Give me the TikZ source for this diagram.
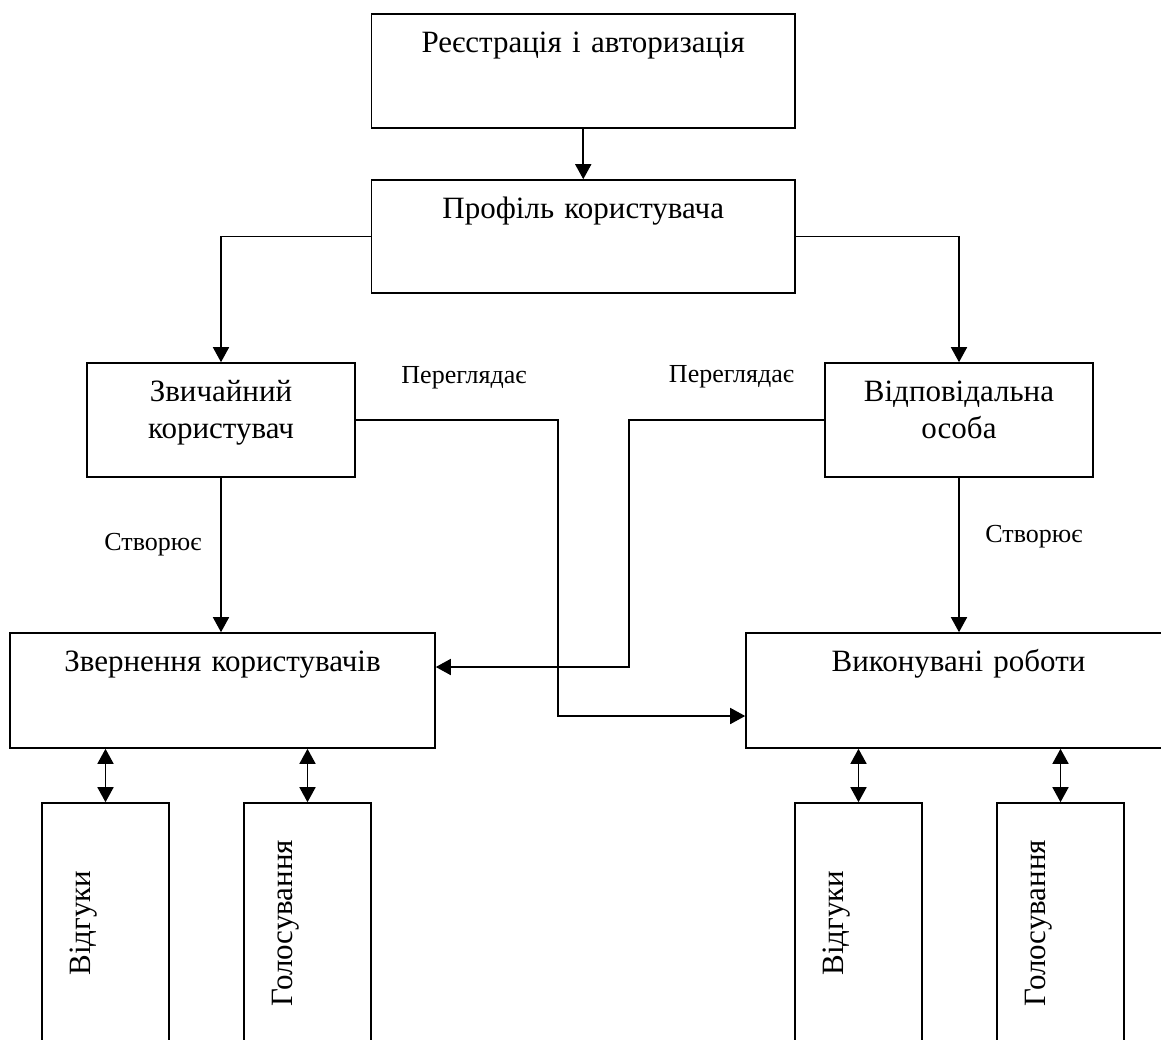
\documentclass[tikz,border=0pt]{standalone}
\usepackage{fontspec}
\setmainfont{Liberation Serif}
\usetikzlibrary{arrows.meta}

\tikzset{
  blk/.style={draw, rectangle, line width=0.8pt, inner sep=0pt, align=center,
    text height=19pt, font=\fontsize{15.5}{18.5}\selectfont},
  vblk/.style={blk, rotate=90, text width=120pt, text height=24.25pt, text depth=39.25pt},
  lbl/.style={anchor=base, inner sep=0pt, font=\fontsize{13}{15}\selectfont},
  arr/.style={line width=0.8pt, -{Triangle[length=7.5pt,width=8pt]}},
  darr/.style={line width=0.8pt, {Triangle[length=7.5pt,width=8pt]}-{Triangle[length=7.5pt,width=8pt]}},
}

\begin{document}
\begin{tikzpicture}[x=0.5pt, y=-0.5pt]
    \useasboundingbox (0,0) rectangle (1161,1039);

    % Top boxes
    \node[blk, text width=211.75pt, text depth=38pt] (reg) at (583.25,71) {Реєстрація і авторизація};
    \node[blk, text width=211.75pt, text depth=37.5pt] (prof) at (583.25,236.5) {Профіль користувача};

    % Roles
    \node[blk, text width=134pt, text depth=38pt] (user) at (221,420) {Звичайний\\користувач};
    \node[blk, text width=134pt, text depth=38pt] (resp) at (959,420) {Відповідальна\\особа};

    % Main lists
    \node[blk, text width=212.5pt, text depth=38.5pt] (appeal) at (222.5,690.5) {Звернення користувачів};
    \node[blk, text width=212.5pt, text depth=38.5pt] (works) at (958.5,690.5) {Виконувані роботи};

    % Feedback and voting
    \node[vblk] (fbL) at (105.5,923) {Відгуки};
    \node[vblk] (voteL) at (307.5,923) {Голосування};
    \node[vblk] (fbR) at (858.5,923) {Відгуки};
    \node[vblk] (voteR) at (1060.5,923) {Голосування};

    % Labels
    \node[lbl] (viewL) at (464,383) {Переглядає};
    \node[lbl] (viewR) at (731.5,382) {Переглядає};
    \node[lbl] (makeL) at (153,550) {Створює};
    \node[lbl] (makeR) at (1034,542) {Створює};

    % Connectors
    \coordinate (bendL) at (558,716);
    \coordinate (bendR) at (629,667);
    \draw[arr] (reg) -- (prof);
    \draw[arr] (prof.west) -| (user.north);
    \draw[arr] (prof.east) -| (resp.north);
    \draw[arr] (user.south) -- (user.south |- appeal.north);
    \draw[arr] (resp.south) -- (resp.south |- works.north);
    \draw[arr] (user.east) -| (bendL) -- (bendL -| works.west);
    \draw[arr] (resp.west) -| (bendR) -- (bendR -| appeal.east);

    % Two-way links
    \draw[darr] (fbL.east |- appeal.south) -- (fbL.east);
    \draw[darr] (voteL.east |- appeal.south) -- (voteL.east);
    \draw[darr] (fbR.east |- works.south) -- (fbR.east);
    \draw[darr] (voteR.east |- works.south) -- (voteR.east);
\end{tikzpicture}
\end{document}
